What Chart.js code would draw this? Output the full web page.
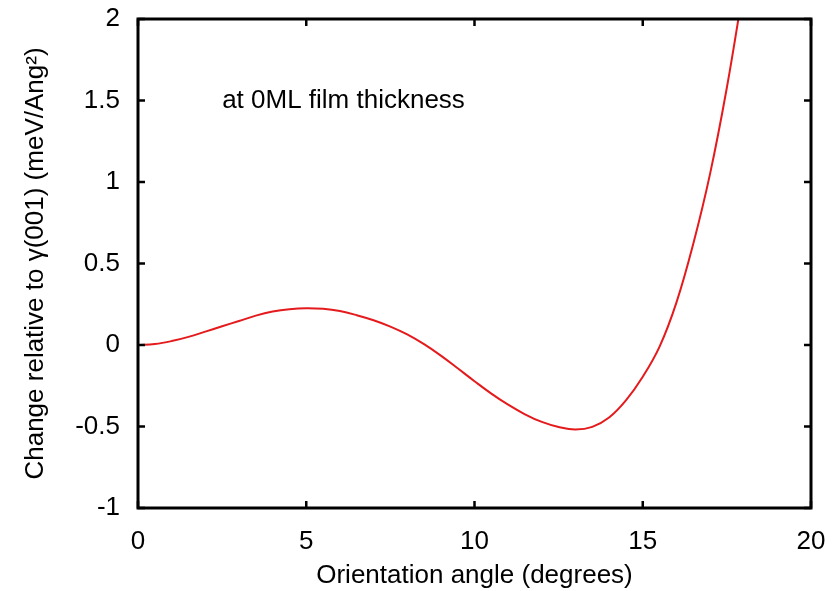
<!DOCTYPE html>
<html>
<head>
<meta charset="utf-8">
<script src="https://cdn.jsdelivr.net/npm/chart.js@4.4.1/dist/chart.umd.min.js"></script>
<style>
  html, body { margin: 0; padding: 0; background: #fff; }
  #wrap { width: 833px; height: 591px; }
</style>
</head>
<body>
<div id="wrap"><canvas id="chart" width="833" height="591"></canvas></div>
<script>
// vinkel (grader) och energiskillnad
const vinklar = [0, 0.5, 1, 1.5, 2, 2.5, 3, 3.5, 4, 4.5, 5, 5.5, 6, 6.5, 7, 7.5, 8, 8.5, 9, 9.5,
  10, 10.5, 11, 11.5, 12, 12.5, 13, 13.5, 14, 14.5, 15, 15.5, 16, 16.5, 17, 17.5, 18];
const andring = [0, 0.006, 0.024, 0.05, 0.082, 0.115, 0.147, 0.18, 0.205, 0.22, 0.226, 0.222, 0.208, 0.183, 0.152, 0.113, 0.065, 0.005, -0.065, -0.143,
  -0.222, -0.298, -0.366, -0.425, -0.472, -0.503, -0.518, -0.502, -0.445, -0.34, -0.195, -0.01, 0.26, 0.62, 1.05, 1.58, 2.2];

const xTicks = [0, 5, 10, 15, 20];
const yTicks = [-1, -0.5, 0, 0.5, 1, 1.5, 2];
const anteckning = "at 0ML film thickness";

const FONT = "'Liberation Sans', Arial, sans-serif";
const FS = 26;

// ram runt plottytan + inåtriktade tickmarks på alla fyra sidor
const ramPlugin = {
  id: 'ram',
  afterDatasetsDraw(chart) {
    const { ctx, chartArea: a, scales } = chart;
    ctx.save();
    ctx.strokeStyle = '#000';
    ctx.lineWidth = 2.5;
    const len = 7;
    ctx.beginPath();
    xTicks.forEach(v => {
      const px = scales.x.getPixelForValue(v);
      ctx.moveTo(px, a.bottom); ctx.lineTo(px, a.bottom - len);
      ctx.moveTo(px, a.top); ctx.lineTo(px, a.top + len);
    });
    yTicks.forEach(v => {
      const py = scales.y.getPixelForValue(v);
      ctx.moveTo(a.left, py); ctx.lineTo(a.left + len, py);
      ctx.moveTo(a.right, py); ctx.lineTo(a.right - len, py);
    });
    ctx.stroke();
    ctx.lineWidth = 3;
    ctx.strokeRect(a.left, a.top, a.right - a.left, a.bottom - a.top);

    // text inne i grafen
    ctx.fillStyle = '#000';
    ctx.font = FS + 'px ' + FONT;
    ctx.textBaseline = 'middle';
    ctx.textAlign = 'left';
    ctx.fillText(anteckning, scales.x.getPixelForValue(2.5), scales.y.getPixelForValue(1.5));
    ctx.restore();
  }
};

new Chart(document.getElementById('chart'), {
  type: 'line',
  data: {
    datasets: [{
      data: vinklar.map((v, i) => ({ x: v, y: andring[i] })),
      borderColor: '#e41a1c',
      borderWidth: 2,
      pointRadius: 0,
      tension: 0.4,
      fill: false
    }]
  },
  options: {
    responsive: false,
    animation: false,
    layout: { padding: { left: 20, top: 19, right: 22, bottom: 0 } },
    plugins: { legend: { display: false }, tooltip: { enabled: false } },
    scales: {
      x: {
        type: 'linear', min: 0, max: 20,
        afterBuildTicks: s => { s.ticks = xTicks.map(v => ({ value: v })); },
        afterFit: s => { s.height = 83; s.paddingLeft = 0; s.paddingRight = 0; },
        grid: { display: false },
        border: { display: false },
        ticks: { color: '#000', padding: 10, font: { family: FONT, size: FS }, maxRotation: 0 },
        title: { display: true, text: 'Orientation angle (degrees)', color: '#000', font: { family: FONT, size: FS }, padding: { top: 2, bottom: 0 } }
      },
      y: {
        type: 'linear', min: -1, max: 2,
        afterBuildTicks: s => { s.ticks = yTicks.map(v => ({ value: v })); },
        afterFit: s => { s.width = 118; s.paddingTop = 0; s.paddingBottom = 0; },
        grid: { display: false },
        border: { display: false },
        ticks: { color: '#000', padding: 10, font: { family: FONT, size: FS }, callback: v => String(v) },
        title: { display: true, text: 'Change relative to γ(001) (meV/Ang²)', color: '#000', font: { family: FONT, size: FS }, padding: { top: 0, bottom: 6 } }
      }
    }
  },
  plugins: [ramPlugin]
});
</script>
</body>
</html>
